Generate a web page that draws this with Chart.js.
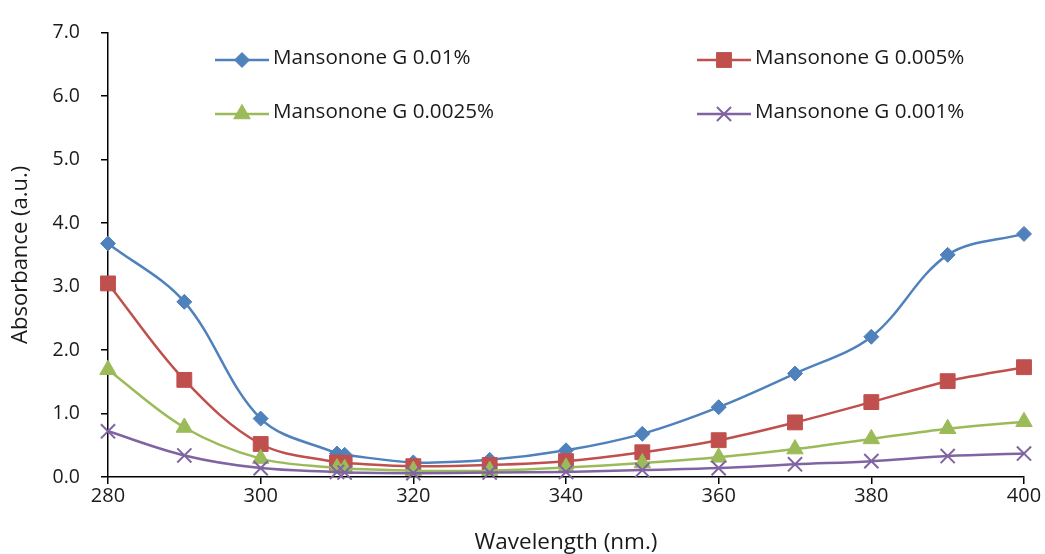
<!DOCTYPE html>
<html>
<head>
<meta charset="utf-8">
<script src="https://cdn.jsdelivr.net/npm/chart.js@4/dist/chart.umd.min.js"></script>
<style>
  html, body { margin: 0; padding: 0; background: #ffffff; }
  #wrap { width: 1045px; height: 554px; position: relative; }
</style>
</head>
<body>
<div id="wrap"><canvas id="c" width="1045" height="554"></canvas></div>
<script>
// Wavelengths (nm) at which absorbance was measured
const wavelengths = [280, 290, 300, 310, 311, 320, 330, 340, 350, 360, 370, 380, 390, 400];

// Absorbance (a.u.) for each Mansonone G concentration
const conc0100 = [3.68, 2.76, 0.92, 0.37, 0.35, 0.23, 0.27, 0.42, 0.68, 1.10, 1.63, 2.21, 3.50, 3.83];
const conc0050 = [3.05, 1.53, 0.52, 0.23, 0.22, 0.17, 0.19, 0.25, 0.39, 0.58, 0.86, 1.18, 1.51, 1.73];
const conc0025 = [1.69, 0.78, 0.29, 0.14, 0.13, 0.10, 0.10, 0.15, 0.22, 0.31, 0.44, 0.60, 0.76, 0.87];
const conc0010 = [0.72, 0.34, 0.14, 0.08, 0.07, 0.06, 0.07, 0.08, 0.11, 0.14, 0.20, 0.25, 0.33, 0.37];

const seriesLabels = ['Mansonone G 0.01%', 'Mansonone G 0.005%', 'Mansonone G 0.0025%', 'Mansonone G 0.001%'];

// Axis ranges
const xTicks = [280, 300, 320, 340, 360, 380, 400];
const yMin = 0, yMax = 7, yStep = 1;

const FONT = '"Open Sans", "Noto Sans", sans-serif';

const toPoints = (ys) => wavelengths.map((w, i) => ({ x: w, y: ys[i] }));

const styles = [
  { color: '#4F81BD', pointStyle: 'rectRot',  radius: 7.5, borderWidth: 1 },
  { color: '#C0504D', pointStyle: 'rect',     radius: 10.5, borderWidth: 1 },
  { color: '#9BBB59', pointStyle: 'triangle', radius: 9.5, borderWidth: 1 },
  { color: '#8064A2', pointStyle: 'crossRot', radius: 10, borderWidth: 2 }
];
const seriesData = [conc0100, conc0050, conc0025, conc0010];

const datasets = seriesData.map((ys, i) => ({
  label: seriesLabels[i],
  data: toPoints(ys),
  borderColor: styles[i].color,
  backgroundColor: styles[i].color,
  borderWidth: 2.5,
  tension: 0.35,
  pointStyle: styles[i].pointStyle,
  pointRadius: styles[i].radius,
  pointHoverRadius: styles[i].radius,
  pointBackgroundColor: styles[i].color,
  pointBorderColor: styles[i].color,
  pointBorderWidth: styles[i].borderWidth,
  order: 3 - i,
  clip: false
}));

// Two-column legend drawn inside the plot area
const legendInside = {
  id: 'legendInside',
  afterDraw(chart, args, opts) {
    const ctx = chart.ctx;
    ctx.save();
    opts.entries.forEach((pos, i) => {
      const st = styles[i];
      ctx.strokeStyle = st.color;
      ctx.lineWidth = 2.5;
      ctx.beginPath();
      ctx.moveTo(pos.x, pos.y);
      ctx.lineTo(pos.x + opts.lineLength, pos.y);
      ctx.stroke();
      ctx.fillStyle = st.color;
      ctx.lineWidth = st.borderWidth;
      Chart.helpers.drawPoint(ctx, {
        pointStyle: st.pointStyle,
        radius: st.radius,
        rotation: 0,
        borderWidth: st.borderWidth
      }, pos.x + opts.lineLength / 2, pos.y);
      ctx.fillStyle = '#1a1a1a';
      ctx.font = opts.font;
      ctx.textBaseline = 'middle';
      ctx.textAlign = 'left';
      ctx.fillText(seriesLabels[i], pos.x + opts.lineLength + 4, pos.y - 2);
    });
    ctx.restore();
  }
};

new Chart(document.getElementById('c'), {
  type: 'line',
  data: { datasets },
  plugins: [legendInside],
  options: {
    responsive: false,
    animation: false,
    events: [],
    layout: { padding: { left: 0, top: 27, right: 21, bottom: 0 } },
    plugins: {
      legend: { display: false },
      tooltip: { enabled: false },
      legendInside: {
        lineLength: 54,
        font: '20.6px ' + FONT,
        entries: [
          { x: 215, y: 60 },
          { x: 697, y: 60 },
          { x: 215, y: 114 },
          { x: 697, y: 114 }
        ]
      }
    },
    scales: {
      x: {
        type: 'linear',
        min: xTicks[0],
        max: xTicks[xTicks.length - 1],
        afterBuildTicks: (scale) => { scale.ticks = xTicks.map(v => ({ value: v })); },
        afterFit: (scale) => { scale.height = 77; },
        border: { display: true, color: '#000000', width: 1.5 },
        grid: { display: true, drawOnChartArea: false, drawTicks: true, tickLength: 7, color: '#000000', lineWidth: 1.5 },
        ticks: {
          color: '#1a1a1a',
          font: { family: FONT, size: 20 },
          padding: 0,
          maxRotation: 0,
          callback: (v) => String(v)
        },
        title: {
          display: true,
          text: 'Wavelength (nm.)',
          color: '#1a1a1a',
          font: { family: FONT, size: 22.5 },
          padding: { top: 0, bottom: -2 }
        }
      },
      y: {
        type: 'linear',
        min: yMin,
        max: yMax,
        afterFit: (scale) => { scale.width = 108; },
        border: { display: true, color: '#000000', width: 1.5 },
        grid: { display: true, drawOnChartArea: false, drawTicks: true, tickLength: 7, color: '#000000', lineWidth: 1.5 },
        ticks: {
          stepSize: yStep,
          color: '#1a1a1a',
          font: { family: FONT, size: 19.5 },
          padding: 21,
          callback: (v) => Number(v).toFixed(1)
        },
        title: {
          display: true,
          text: 'Absorbance (a.u.)',
          color: '#1a1a1a',
          font: { family: FONT, size: 22 },
          padding: { top: 8, bottom: 0 }
        }
      }
    }
  }
});
</script>
</body>
</html>
